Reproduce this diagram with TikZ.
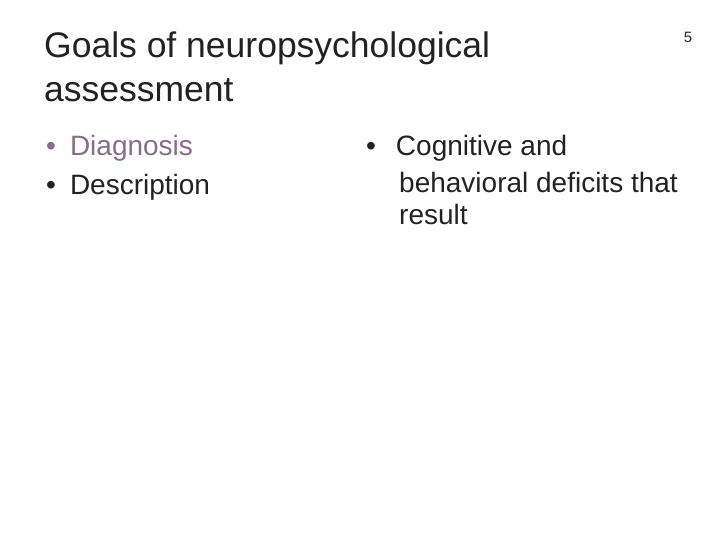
\documentclass[tikz,border=0pt]{standalone}
\usepackage{fontspec}
\setmainfont{Liberation Sans}
\definecolor{purp}{HTML}{8A6A8E}
\definecolor{txt}{HTML}{222222}
\begin{document}
\begin{tikzpicture}[x=1pt,y=1pt,
  title/.style={anchor=west,inner sep=0pt,font=\fontsize{35.5}{40}\selectfont,text=txt},
  item/.style={anchor=west,inner sep=0pt,font=\fontsize{28}{32}\selectfont,text=txt}]
\useasboundingbox (0,0) rectangle (720,540);
\node[title] (t1) at (44,492) {Goals of neuropsychological};
\node[title] (t2) at (44,450) {assessment};
\node[item,text=purp] (b1) at (46,392) {\textbullet\hspace{14pt}Diagnosis};
\node[item] (b2) at (46,353) {\textbullet\hspace{14pt}Description};
\node[item] (c1) at (366,392) {\textbullet\hspace{20pt}Cognitive and};
\node[item] (c2) at (399,358) {behavioral deficits that};
\node[item] (c3) at (399,326) {result};
\node[anchor=center,inner sep=0pt,font=\fontsize{15}{17}\selectfont,text=txt] (n) at (688,503) {5};
\end{tikzpicture}
\end{document}
